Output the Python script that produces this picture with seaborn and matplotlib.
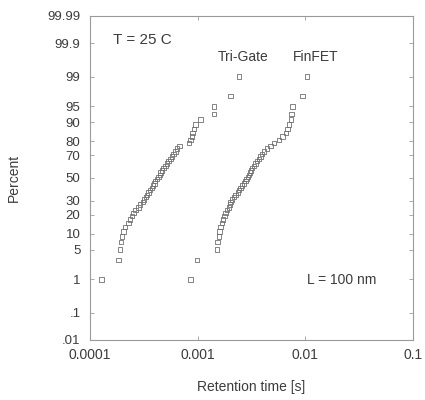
from statistics import NormalDist

import numpy as np
import pandas as pd
import matplotlib
matplotlib.use('Agg')
import matplotlib.pyplot as plt
import seaborn as sns

# cumulative percent of each sorted sample (50 cells per device)
percent = [1, 3, 5, 7, 9, 11, 13, 15, 17, 19, 21, 23, 25, 27, 29, 31, 33, 35, 37, 39,
           41, 43, 45, 47, 49, 51, 53, 55, 57, 59, 61, 63, 65, 67, 69, 71, 73, 75, 77, 79,
           81, 83, 85, 87, 89, 91, 93, 95, 97, 99]

# retention times [s]
trigate = [1.28e-4, 1.84e-4, 1.90e-4, 1.93e-4, 1.97e-4, 2.05e-4, 2.12e-4, 2.28e-4, 2.35e-4, 2.44e-4,
           2.53e-4, 2.63e-4, 2.82e-4, 2.92e-4, 3.09e-4, 3.18e-4, 3.30e-4, 3.37e-4, 3.50e-4, 3.62e-4,
           3.75e-4, 3.84e-4, 3.95e-4, 4.03e-4, 4.18e-4, 4.33e-4, 4.43e-4, 4.49e-4, 4.65e-4, 4.82e-4,
           5.00e-4, 5.18e-4, 5.37e-4, 5.56e-4, 5.77e-4, 5.97e-4, 6.19e-4, 6.42e-4, 6.75e-4, 8.24e-4,
           8.55e-4, 8.86e-4, 8.90e-4, 9.18e-4, 9.51e-4, 1.06e-3, 1.41e-3, 1.42e-3, 2.01e-3, 2.41e-3]

finfet = [8.55e-4, 9.86e-4, 1.51e-3, 1.52e-3, 1.57e-3, 1.59e-3, 1.63e-3, 1.69e-3, 1.72e-3, 1.77e-3,
          1.81e-3, 1.88e-3, 1.94e-3, 1.99e-3, 2.01e-3, 2.09e-3, 2.16e-3, 2.24e-3, 2.36e-3, 2.41e-3,
          2.50e-3, 2.59e-3, 2.68e-3, 2.78e-3, 2.84e-3, 2.92e-3, 2.99e-3, 3.05e-3, 3.14e-3, 3.21e-3,
          3.32e-3, 3.45e-3, 3.57e-3, 3.70e-3, 3.84e-3, 3.97e-3, 4.12e-3, 4.42e-3, 4.75e-3, 5.10e-3,
          5.68e-3, 6.10e-3, 6.56e-3, 6.80e-3, 7.04e-3, 7.30e-3, 7.45e-3, 7.60e-3, 9.37e-3, 1.03e-2]

y_ticks = [0.01, 0.1, 1, 5, 10, 20, 30, 50, 70, 80, 90, 95, 99, 99.9, 99.99]
y_labels = ['.01', '.1', '1', '5', '10', '20', '30', '50', '70', '80', '90', '95', '99', '99.9', '99.99']
x_ticks = [1e-4, 1e-3, 1e-2, 1e-1]
x_labels = ['0.0001', '0.001', '0.01', '0.1']

df = pd.concat([
    pd.DataFrame({'time': trigate, 'percent': percent, 'device': 'Tri-Gate'}),
    pd.DataFrame({'time': finfet, 'percent': percent, 'device': 'FinFET'}),
])

# normal probability scale for the y axis
nd = NormalDist()
_fwd = np.vectorize(lambda v: nd.inv_cdf(v / 100.0), otypes=[float])
_inv = np.vectorize(lambda v: nd.cdf(v) * 100.0, otypes=[float])

def prob_fwd(p):
    p = np.clip(np.asarray(p, dtype=float), 1e-7, 100 - 1e-7)
    return _fwd(p)

def prob_inv(z):
    return _inv(np.asarray(z, dtype=float))

sns.set_style('ticks')
plt.rcParams['font.family'] = ['Liberation Sans', 'DejaVu Sans']
text_col = '#3c3c3c'

fig = plt.figure(figsize=(4.25, 4.0), dpi=100)
ax = fig.add_axes([0.212, 0.15, 0.76, 0.81])

for dev in ['Tri-Gate', 'FinFET']:
    sns.scatterplot(data=df[df['device'] == dev], x='time', y='percent', ax=ax,
                    marker='s', s=10, facecolor='none', edgecolor='#707070',
                    linewidth=0.6, legend=False)

ax.set_xscale('log')
ax.set_yscale('function', functions=(prob_fwd, prob_inv))
ax.set_xlim(1e-4, 1e-1)
ax.set_ylim(0.01, 99.99)
ax.set_xticks(x_ticks)
ax.set_xticklabels(x_labels)
ax.xaxis.set_minor_locator(matplotlib.ticker.NullLocator())
ax.set_yticks(y_ticks)
ax.set_yticklabels(y_labels)
ax.yaxis.set_minor_locator(matplotlib.ticker.NullLocator())

for s in ax.spines.values():
    s.set_color('#9a9a9a')
    s.set_linewidth(0.8)
ax.tick_params(direction='in', length=3, width=0.6, color='#9a9a9a',
               top=True, right=True, labelcolor=text_col, labelsize=10)
ax.tick_params(axis='x', pad=6)
ax.tick_params(axis='y', pad=7, labelsize=9.5)

ax.set_xlabel('Retention time [s]', fontsize=10, color=text_col)
ax.set_ylabel('Percent', fontsize=10, color=text_col)
ax.xaxis.set_label_coords(0.5, -0.125)
ax.yaxis.set_label_coords(-0.215, 0.5)

ax.text(0.071, 0.926, 'T = 25 C', transform=ax.transAxes, fontsize=11, color=text_col, va='center')
ax.text(0.396, 0.873, 'Tri-Gate', transform=ax.transAxes, fontsize=10, color=text_col, va='center')
ax.text(0.628, 0.873, 'FinFET', transform=ax.transAxes, fontsize=10, color=text_col, va='center')
ax.text(0.672, 0.185, 'L = 100 nm', transform=ax.transAxes, fontsize=10, color=text_col, va='center')

fig.savefig('out.png', dpi=100)
